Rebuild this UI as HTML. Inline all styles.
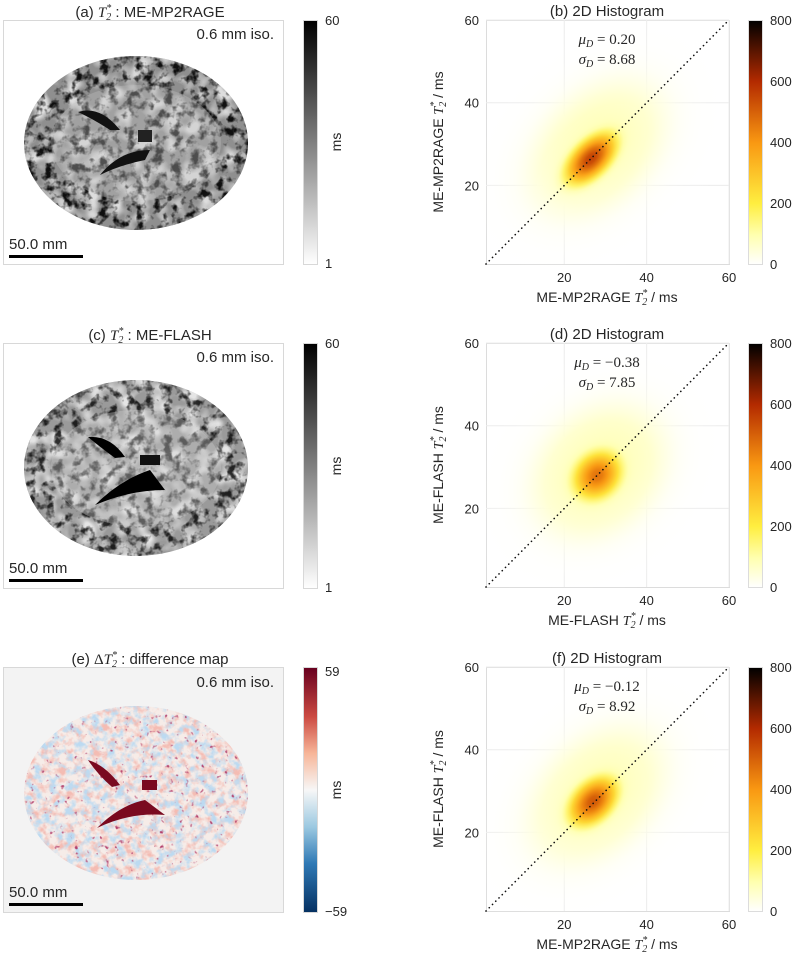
<!DOCTYPE html>
<html><head><meta charset="utf-8"><style>
html,body{margin:0;padding:0;background:#fff;}
svg{display:block;}
text{font-family:"Liberation Sans","DejaVu Sans",sans-serif;fill:#262626;}
.m{font-family:"Liberation Serif",serif;font-style:italic;}
.n{font-family:"Liberation Serif",serif;}
</style></head><body>
<svg id="fig" width="794" height="960" viewBox="0 0 794 960" xmlns="http://www.w3.org/2000/svg">
<defs>
  <linearGradient id="grayBar" x1="0" y1="1" x2="0" y2="0">
    <stop offset="0" stop-color="#ffffff"/><stop offset="1" stop-color="#000000"/>
  </linearGradient>
  <linearGradient id="rdbuBar" x1="0" y1="1" x2="0" y2="0">
    <stop offset="0" stop-color="#053061"/><stop offset="0.2" stop-color="#2f79b5"/>
    <stop offset="0.35" stop-color="#9cc9e1"/><stop offset="0.5" stop-color="#f7f7f7"/>
    <stop offset="0.65" stop-color="#f7b598"/><stop offset="0.8" stop-color="#cb4a42"/>
    <stop offset="1" stop-color="#67001f"/>
  </linearGradient>
  <linearGradient id="hotBar" x1="0" y1="1" x2="0" y2="0">
    <stop offset="0" stop-color="#ffffff"/><stop offset="0.12" stop-color="#ffffb0"/>
    <stop offset="0.25" stop-color="#ffee40"/><stop offset="0.5" stop-color="#f99812"/>
    <stop offset="0.75" stop-color="#b32a00"/><stop offset="1" stop-color="#000000"/>
  </linearGradient>
  <filter id="brainTex" x="0" y="0" width="100%" height="100%">
    <feTurbulence type="fractalNoise" baseFrequency="0.11" numOctaves="3" seed="4" result="t"/>
    <feColorMatrix type="matrix" in="t" values="0 0 0 0 0  0 0 0 0 0  0 0 0 0 0  4 0 0 0 -1.9" result="d"/>
    <feComposite in="d" in2="SourceGraphic" operator="in"/>
  </filter>
  <filter id="brainLight" x="0" y="0" width="100%" height="100%">
    <feTurbulence type="fractalNoise" baseFrequency="0.06" numOctaves="2" seed="9" result="t"/>
    <feColorMatrix type="matrix" in="t" values="0 0 0 0 1  0 0 0 0 1  0 0 0 0 1  0 3 0 0 -1.2" result="d"/>
    <feComposite in="d" in2="SourceGraphic" operator="in"/>
  </filter>
  <filter id="diffRed" x="0" y="0" width="100%" height="100%">
    <feTurbulence type="fractalNoise" baseFrequency="0.12" numOctaves="3" seed="7" result="t"/>
    <feColorMatrix type="matrix" in="t" values="0 0 0 0 0.9  0 0 0 0 0.5  0 0 0 0 0.45  3.5 0 0 0 -1.6" result="d"/>
    <feComposite in="d" in2="SourceGraphic" operator="in"/>
  </filter>
  <filter id="diffBlue" x="0" y="0" width="100%" height="100%">
    <feTurbulence type="fractalNoise" baseFrequency="0.12" numOctaves="3" seed="21" result="t"/>
    <feColorMatrix type="matrix" in="t" values="0 0 0 0 0.5  0 0 0 0 0.7  0 0 0 0 0.88  3.5 0 0 0 -1.6" result="d"/>
    <feComposite in="d" in2="SourceGraphic" operator="in"/>
  </filter>
  <filter id="diffDark" x="0" y="0" width="100%" height="100%">
    <feTurbulence type="fractalNoise" baseFrequency="0.2" numOctaves="2" seed="33" result="t"/>
    <feColorMatrix type="matrix" in="t" values="0 0 0 0 0.45  0 0 0 0 0.05  0 0 0 0 0.15  6 0 0 0 -4.1" result="d"/>
    <feComposite in="d" in2="SourceGraphic" operator="in"/>
  </filter>
</defs>

<!-- ===== Left panel (a) ===== -->
<g>
  <text x="150" y="17" font-size="15" text-anchor="middle">(a) <tspan class="m">T</tspan><tspan class="m" font-size="10" dy="3">2</tspan><tspan class="m" font-size="10" dy="-9" dx="-5">*</tspan><tspan dy="6"> : ME-MP2RAGE</tspan></text>
  <rect x="3.5" y="20.5" width="280" height="244" fill="#fff" stroke="#d8d8d8"/>
  <g>
    <ellipse cx="136" cy="143" rx="112" ry="87" fill="#8f8f8f"/>
    <ellipse cx="136" cy="143" rx="112" ry="87" fill="#fff" filter="url(#brainLight)" opacity="0.7"/>
    <ellipse cx="136" cy="143" rx="112" ry="87" fill="#000" filter="url(#brainTex)" opacity="0.9"/>
    <ellipse cx="136" cy="143" rx="85" ry="58" fill="#c4c4c4" opacity="0.35"/>
    <path d="M78 112 Q100 105 120 130 L110 130 Q95 120 78 112Z" fill="#111"/>
    <path d="M100 175 Q120 150 150 150 L145 160 Q120 165 100 175Z" fill="#111"/>
    <path d="M138 130 h14 v12 h-14z" fill="#222"/>
  </g>
  <text x="274" y="39" font-size="15" text-anchor="end" fill="#000">0.6 mm iso.</text>
  <text x="9" y="249" font-size="15" fill="#000">50.0 mm</text>
  <rect x="9" y="255" width="74" height="3" fill="#000"/>
  <rect x="303.5" y="20.5" width="14" height="244" fill="url(#grayBar)" stroke="#d8d8d8"/>
  <text x="325" y="25" font-size="13">60</text>
  <text x="325" y="268" font-size="13">1</text>
  <text x="341" y="142" font-size="14" text-anchor="middle" transform="rotate(-90 341 142)">ms</text>
</g>

<!-- ===== Left panel (c) ===== -->
<g>
  <text x="150" y="340" font-size="15" text-anchor="middle">(c) <tspan class="m">T</tspan><tspan class="m" font-size="10" dy="3">2</tspan><tspan class="m" font-size="10" dy="-9" dx="-5">*</tspan><tspan dy="6"> : ME-FLASH</tspan></text>
  <rect x="3.5" y="343.5" width="280" height="245" fill="#fff" stroke="#d8d8d8"/>
  <g>
    <ellipse cx="136" cy="468" rx="112" ry="88" fill="#9a9a9a"/>
    <ellipse cx="136" cy="468" rx="112" ry="88" fill="#fff" filter="url(#brainLight)" opacity="0.75"/>
    <ellipse cx="136" cy="468" rx="112" ry="88" fill="#000" filter="url(#brainTex)" opacity="0.8"/>
    <ellipse cx="136" cy="468" rx="85" ry="58" fill="#d0d0d0" opacity="0.35"/>
    <path d="M88 437 Q110 435 125 457 L115 458 Q100 447 88 437Z" fill="#000"/>
    <path d="M95 505 Q120 480 150 470 L165 490 Q130 490 95 505Z" fill="#000"/>
    <path d="M140 455 h20 v10 h-20z" fill="#111"/>
  </g>
  <text x="274" y="362" font-size="15" text-anchor="end" fill="#000">0.6 mm iso.</text>
  <text x="9" y="573" font-size="15" fill="#000">50.0 mm</text>
  <rect x="9" y="579" width="74" height="3" fill="#000"/>
  <rect x="303.5" y="343.5" width="14" height="245" fill="url(#grayBar)" stroke="#d8d8d8"/>
  <text x="325" y="348" font-size="13">60</text>
  <text x="325" y="592" font-size="13">1</text>
  <text x="341" y="466" font-size="14" text-anchor="middle" transform="rotate(-90 341 466)">ms</text>
</g>

<!-- ===== Left panel (e) ===== -->
<g>
  <text x="150" y="664" font-size="15" text-anchor="middle">(e) <tspan class="n">Δ</tspan><tspan class="m">T</tspan><tspan class="m" font-size="10" dy="3">2</tspan><tspan class="m" font-size="10" dy="-9" dx="-5">*</tspan><tspan dy="6"> : difference map</tspan></text>
  <rect x="3.5" y="667.5" width="280" height="245" fill="#f3f3f3" stroke="#d8d8d8"/>
  <g>
    <ellipse cx="136" cy="793" rx="112" ry="87" fill="#f6ece8"/>
    <ellipse cx="136" cy="793" rx="112" ry="87" fill="#000" filter="url(#diffRed)"/>
    <ellipse cx="136" cy="793" rx="112" ry="87" fill="#000" filter="url(#diffBlue)"/>
    <ellipse cx="136" cy="793" rx="112" ry="87" fill="#000" filter="url(#diffDark)"/>
    <path d="M88 760 Q105 765 120 785 L112 787 Q98 775 88 760Z" fill="#7a0a20"/>
    <path d="M97 828 Q120 805 145 800 L165 815 Q130 812 97 828Z" fill="#7a0a20"/>
    <path d="M142 780 h15 v10 h-15z" fill="#7a0a20"/>
  </g>
  <text x="274" y="687" font-size="15" text-anchor="end" fill="#000">0.6 mm iso.</text>
  <text x="9" y="897" font-size="15" fill="#000">50.0 mm</text>
  <rect x="9" y="903" width="74" height="3" fill="#000"/>
  <rect x="303.5" y="667.5" width="14" height="245" fill="url(#rdbuBar)" stroke="#d8d8d8"/>
  <text x="325" y="676" font-size="13">59</text>
  <text x="325" y="916" font-size="13">−59</text>
  <text x="341" y="790" font-size="14" text-anchor="middle" transform="rotate(-90 341 790)">ms</text>
</g>

<g id="hists"></g>
</svg>
<script>
// ---- chart data ----
const panelTitles = ["(b) 2D Histogram", "(d) 2D Histogram", "(f) 2D Histogram"];
const xLabels = ["ME-MP2RAGE", "ME-FLASH", "ME-MP2RAGE"];
const yLabels = ["ME-MP2RAGE", "ME-FLASH", "ME-FLASH"];
const muValues = ["0.20", "−0.38", "−0.12"];
const sigmaValues = ["8.68", "7.85", "8.92"];
const axisTicks = [20, 40, 60];
const cbarTicks = [0, 200, 400, 600, 800];
// density blobs: core and halo per panel (T2* coordinates in ms, counts)
const coreCx = [26.5, 28, 27];
const coreCy = [26.5, 28, 27.5];
const coreSMajor = [5.5, 4.6, 5.0];
const coreSMinor = [3.0, 3.8, 3.3];
const corePeak = [560, 470, 520];
const haloCx = [28, 28.5, 28];
const haloCy = [29, 29, 29];
const haloSMajor = [13, 12, 13];
const haloSMinor = [9, 9.5, 9];
const haloPeak = [110, 120, 110];

const NS = "http://www.w3.org/2000/svg";
const panelTops = [20, 343, 667];
const PX0 = 486, PW = 243, PH = 244, DMIN = 1, DMAX = 60;
function xs(v){ return PX0 + (v - DMIN) / (DMAX - DMIN) * PW; }
function ys(top, v){ return top + PH - (v - DMIN) / (DMAX - DMIN) * PH; }
function cmap(v){
  const st=[[0,[255,255,255]],[100,[255,255,176]],[200,[255,238,64]],[400,[249,152,18]],[600,[179,42,0]],[800,[0,0,0]]];
  v=Math.max(0,Math.min(800,v));
  for(let i=1;i<st.length;i++){ if(v<=st[i][0]){const a=st[i-1],b=st[i],t=(v-a[0])/(b[0]-a[0]);
    return 'rgb('+a[1].map((c,k)=>Math.round(c+(b[1][k]-c)*t)).join(',')+')';}}
  return 'rgb(0,0,0)';
}
function mk(tag, attrs, parent){ const e=document.createElementNS(NS,tag); for(const k in attrs) e.setAttribute(k,attrs[k]); parent.appendChild(e); return e; }
const root = document.getElementById('hists');
const defs = document.querySelector('defs');
function blob(g, id, top, cx, cy, sMaj, sMin, peak){
  const grad = mk('radialGradient',{id:id,cx:'0.5',cy:'0.5',r:'0.5'},defs);
  for(let i=0;i<=10;i++){
    const t=i/10, v=peak*Math.exp(-(3*t)*(3*t)/2);
    mk('stop',{offset:t,'stop-color':cmap(v),'stop-opacity':Math.min(1,v/peak*2.5)},grad);
  }
  const pxU = PW/(DMAX-DMIN);
  return mk('ellipse',{cx:xs(cx),cy:ys(top,cy),rx:3*sMaj*pxU,ry:3*sMin*pxU,fill:'url(#'+id+')',
    transform:'rotate(-45 '+xs(cx)+' '+ys(top,cy)+')'},g);
}
function t2(parent, x, y, prefix, anchor, rot){
  const t = mk('text',{x:x,y:y,'font-size':14,'text-anchor':anchor||'middle'},parent);
  if(rot) t.setAttribute('transform',rot);
  t.appendChild(document.createTextNode(prefix+' '));
  const a=mk('tspan',{class:'m'},t); a.textContent='T';
  const b=mk('tspan',{class:'m','font-size':10,dy:3},t); b.textContent='2';
  const c=mk('tspan',{class:'m','font-size':10,dy:-9,dx:-5},t); c.textContent='*';
  const d=mk('tspan',{dy:6},t); d.textContent='  / ms';
  return t;
}
panelTops.forEach((top,p)=>{
  const g = mk('g',{},root);
  
  
  const title = mk('text',{x:607,y:top-4,'font-size':15,'text-anchor':'middle'},g);
  title.textContent = panelTitles[p];
  
  
  const bg = mk('rect',{x:PX0+0.5,y:top+0.5,width:PW,height:PH,fill:'#fff',stroke:'#dcdcdc'},g);
  
  
  axisTicks.forEach(v=>{
    const gl = mk('line',{x1:xs(v),x2:xs(v),y1:top,y2:top+PH,stroke:'#ececec'},g);
    
    
    const gh = mk('line',{x1:PX0,x2:PX0+PW,y1:ys(top,v),y2:ys(top,v),stroke:'#ececec'},g);
    
    
  });
  const h = blob(g,'halo'+p,top,haloCx[p],haloCy[p],haloSMajor[p],haloSMinor[p],haloPeak[p]);
  
  
  const c = blob(g,'core'+p,top,coreCx[p],coreCy[p],coreSMajor[p],coreSMinor[p],corePeak[p]);
  
  
  const id = mk('line',{x1:xs(DMIN),y1:ys(top,DMIN),x2:xs(DMAX),y2:ys(top,DMAX),stroke:'#111','stroke-width':1.6,'stroke-dasharray':'0.1 4.5','stroke-linecap':'round'},g);
  
  
  axisTicks.forEach(v=>{
    const tx = mk('text',{x:xs(v),y:top+PH+18,'font-size':13,'text-anchor':'middle'},g);
    tx.textContent = v;
    
    
    const ty = mk('text',{x:PX0-7,y:ys(top,v)+5,'font-size':13,'text-anchor':'end'},g);
    ty.textContent = v;
    
    
  });
  const xl = t2(g, 607, top+PH+38, xLabels[p]);
  
  
  const yx=443, yy=top+PH/2;
  const yl = t2(g, yx, yy, yLabels[p], 'middle', 'rotate(-90 '+yx+' '+yy+')');
  
  
  const mu = mk('text',{x:607,y:top+24,'font-size':15,'text-anchor':'middle'},g);
  mu.innerHTML = '<tspan class="m">μ</tspan><tspan class="m" font-size="10" dy="3">D</tspan><tspan class="n" dy="-3"> = </tspan><tspan class="n">'+muValues[p]+'</tspan>';
  
  
  const sg = mk('text',{x:607,y:top+44,'font-size':15,'text-anchor':'middle'},g);
  sg.innerHTML = '<tspan class="m">σ</tspan><tspan class="m" font-size="10" dy="3">D</tspan><tspan class="n" dy="-3"> = </tspan><tspan class="n">'+sigmaValues[p]+'</tspan>';
  
  
  const cb = mk('rect',{x:748.5,y:top+0.5,width:14,height:PH,fill:'url(#hotBar)',stroke:'#dcdcdc'},g);
  
  
  cbarTicks.forEach(v=>{
    const ct = mk('text',{x:770,y:top+PH - v/800*PH + 5,'font-size':13},g);
    ct.textContent = v;
    
    
  });
});
</script>
</body></html>
